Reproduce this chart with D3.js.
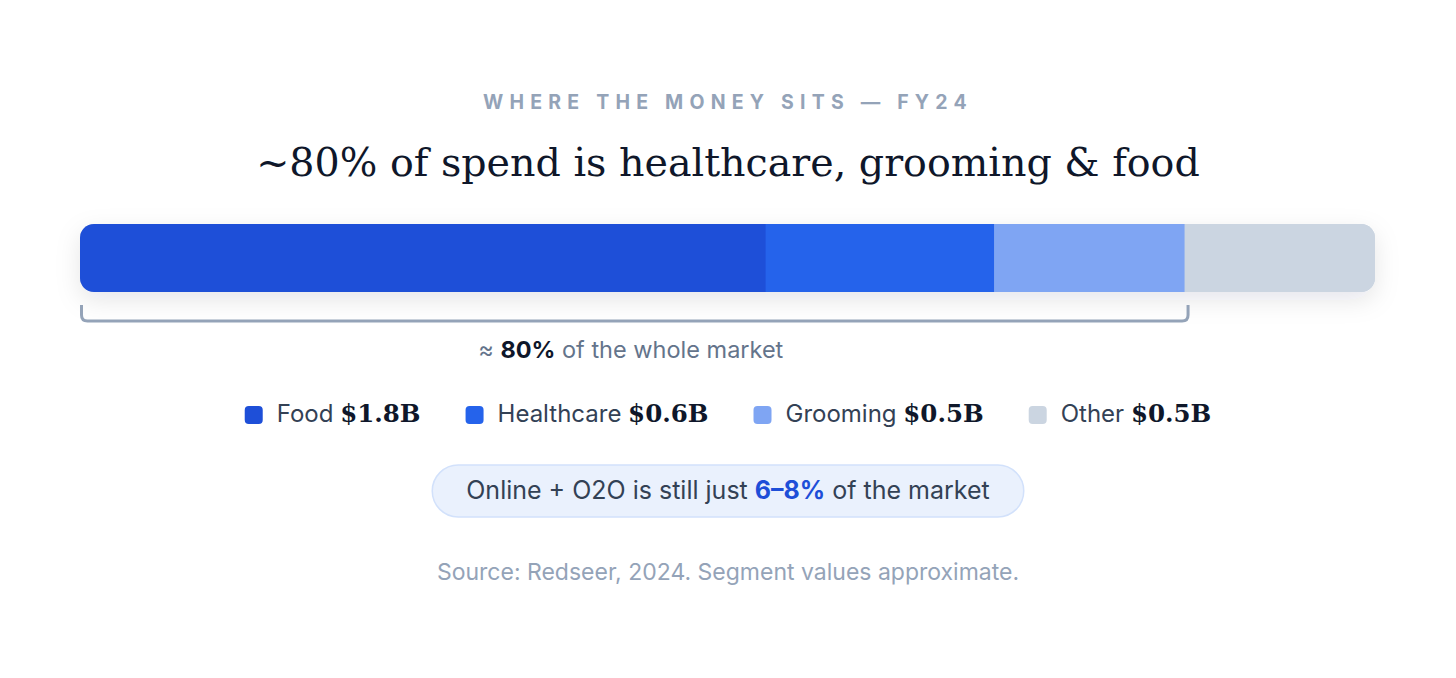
<!DOCTYPE html>
<html><head><meta charset="utf-8">
<script src="https://cdn.jsdelivr.net/npm/d3@7"></script>
<style>
html,body{margin:0;padding:0;background:#fff;}
svg{display:block;}
</style></head>
<body>
<svg id="c" width="1456" height="678"></svg>
<script>
const categories = ["Food","Healthcare","Grooming","Other"];
const values = [1.8, 0.6, 0.5, 0.5];
const valueLabels = ["$1.8B","$0.6B","$0.5B","$0.5B"];
const colors = ["#1e4fd8","#2563eb","#7fa5f3","#cbd5e1"];
const eyebrow = "WHERE THE MONEY SITS — FY24";
const title = "~80% of spend is healthcare, grooming & food";
const bracketCount = 3; // first three segments
const source = "Source: Redseer, 2024. Segment values approximate.";

const svg = d3.select("#c");
const W = 1456;
const sans = "Inter, 'Noto Sans', sans-serif";
const serif = "'DejaVu Serif', Georgia, serif";

const defs = svg.append("defs");
const f = defs.append("filter").attr("id","sh").attr("x","-10%").attr("y","-80%").attr("width","120%").attr("height","260%");
f.append("feDropShadow").attr("dx",0).attr("dy",8).attr("stdDeviation",12).attr("flood-color","#0f172a").attr("flood-opacity",0.10);

// eyebrow
svg.append("text").attr("x",W/2).attr("y",109).attr("text-anchor","middle")
  .attr("font-family",sans).attr("font-weight",700).attr("font-size",19.5)
  .attr("letter-spacing","6.2px").attr("fill","#94a3b8").text(eyebrow);

// title
svg.append("text").attr("x",W/2).attr("y",176).attr("text-anchor","middle")
  .attr("font-family",serif).attr("font-size",39.6).attr("fill","#0f172a").text(title);

// bar
const total = d3.sum(values);
const x = d3.scaleLinear().domain([0,total]).range([80,1375]);
const cum = d3.cumsum(values);
const segs = values.map((v,i)=>({c:categories[i], v, x0: cum[i]-v, x1: cum[i], col: colors[i]}));
const barY = 224, barH = 68, r = 14;
defs.append("clipPath").attr("id","bc").append("rect")
  .attr("x",x(0)).attr("y",barY).attr("width",x(total)-x(0)).attr("height",barH).attr("rx",r);
svg.append("rect").attr("x",x(0)).attr("y",barY).attr("width",x(total)-x(0)).attr("height",barH).attr("rx",r)
  .attr("fill","#cbd5e1").attr("filter","url(#sh)");
svg.append("g").attr("clip-path","url(#bc)").selectAll("rect").data(segs).join("rect")
  .attr("x",d=>x(d.x0)).attr("y",barY).attr("width",d=>x(d.x1)-x(d.x0)+0.5).attr("height",barH).attr("fill",d=>d.col);

// bracket
const bx0 = x(0)+1.5, bx1 = x(cum[bracketCount-1])+3.5, by0 = 305, by1 = 321, br = 6;
svg.append("path").attr("d",`M${bx0},${by0} V${by1-br} Q${bx0},${by1} ${bx0+br},${by1} H${bx1-br} Q${bx1},${by1} ${bx1},${by1-br} V${by0}`)
  .attr("fill","none").attr("stroke","#94a3b8").attr("stroke-width",3);
const lt = svg.append("text").attr("x",(bx0+bx1)/2-4).attr("y",358).attr("text-anchor","middle")
  .attr("font-family",sans).attr("font-size",23.5).attr("fill","#64748b");
lt.append("tspan").text("≈ ");
lt.append("tspan").attr("font-weight",700).attr("fill","#0f172a").text("80%");
lt.append("tspan").text(" of the whole market");

// legend
const lg = svg.append("g");
const items = lg.selectAll("g").data(segs).join("g");
items.append("rect").attr("width",18).attr("height",18).attr("rx",4).attr("y",-15).attr("fill",d=>d.col);
const it = items.append("text").attr("x",32).attr("y",1).attr("font-size",24);
it.append("tspan").attr("font-family",sans).attr("fill","#334155").text(d=>d.c+" ");
it.append("tspan").attr("font-family",serif).attr("font-weight",700).attr("font-size",24.5).attr("fill","#0f172a").text((d,i)=>valueLabels[i]);
let cx = 0; const gap = 45;
items.each(function(){ const w = this.getBBox().width; d3.select(this).attr("transform",`translate(${cx},0)`); cx += w + gap; });
const lw = cx - gap;
lg.attr("transform",`translate(${W/2 - lw/2},421)`);

// pill
const pg = svg.append("g");
const pt = pg.append("text").attr("x",W/2).attr("y",499).attr("text-anchor","middle")
  .attr("font-family",sans).attr("font-size",25).attr("fill","#334155");
pt.append("tspan").text("Online + O2O is still just ");
pt.append("tspan").attr("font-weight",700).attr("fill","#1d4ed8").text("6–8%");
pt.append("tspan").text(" of the market");
const pw = pt.node().getBBox().width + 68;
pg.insert("rect","text").attr("x",W/2-pw/2).attr("y",465).attr("width",pw).attr("height",52).attr("rx",26)
  .attr("fill","#eaf1fd").attr("stroke","#d2e1fb").attr("stroke-width",1.5);

// source
svg.append("text").attr("x",W/2).attr("y",580).attr("text-anchor","middle")
  .attr("font-family",sans).attr("font-size",23).attr("fill","#94a3b8").text(source);
</script>
</body></html>
